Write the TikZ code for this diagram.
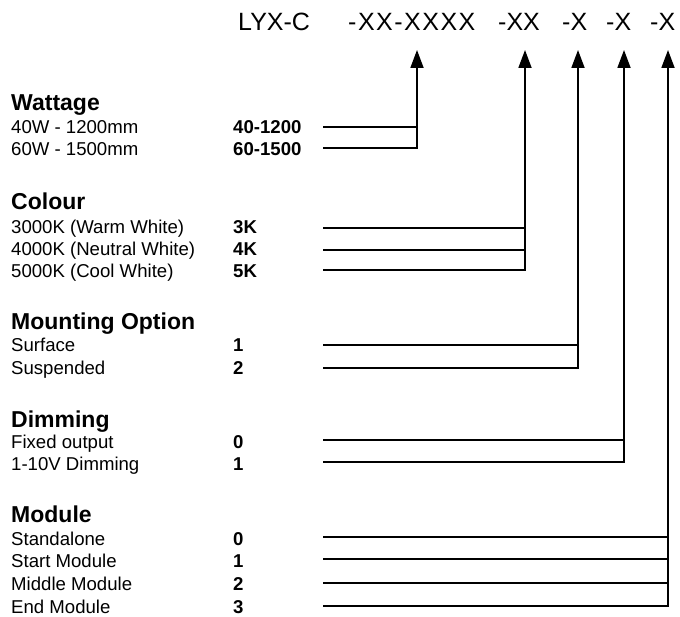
\documentclass[tikz,border=0pt]{standalone}
\usepackage{fontspec}
\setmainfont{Liberation Sans}
\usetikzlibrary{arrows.meta}

\begin{document}
\begin{tikzpicture}[
        x=1pt, y=-1pt,
        part/.style={anchor=base west, inner sep=0pt, font=\fontsize{25}{30}\selectfont},
        head/.style={anchor=base west, inner sep=0pt, font=\fontsize{23}{27}\selectfont\bfseries},
        item/.style={anchor=base west, inner sep=0pt, font=\fontsize{18.6}{22}\selectfont},
        code/.style={anchor=base west, inner sep=0pt, font=\fontsize{18.6}{22}\selectfont\bfseries},
        wire/.style={line width=1.8pt},
        arr/.style={wire, -{Triangle[length=18pt, width=13pt]}}
    ]
        \useasboundingbox (0,0) rectangle (680,617);

        % part number
        \node[part] (pre) at (238,31) {LYX-C};
        \node[part, font=\fontsize{25}{30}\selectfont\addfontfeature{LetterSpace=6}] (wat) at (348,31) {-XX-XXXX};
        \node[part] (col) at (498,31) {-XX};
        \node[part] (mnt) at (562,31) {-X};
        \node[part] (dim) at (606,31) {-X};
        \node[part] (mod) at (650,31) {-X};

        \coordinate (tipW) at (417,50);
        \coordinate (tipC) at (525,50);
        \coordinate (tipM) at (578,50);
        \coordinate (tipD) at (624,50);
        \coordinate (tipX) at (668,50);

        % wattage
        \node[head] (hw) at (11,111) {Wattage};
        \node[item] (w1) at (11,134) {40W - 1200mm};
        \node[code] (w1c) at (233,134) {40-1200};
        \node[item] (w2) at (11,156) {60W - 1500mm};
        \node[code] (w2c) at (233,156) {60-1500};
        \coordinate (lw1) at (323,127);
        \coordinate (lw2) at (323,148);

        % colour
        \node[head] (hc) at (11,210) {Colour};
        \node[item] (c1) at (11,234) {3000K (Warm White)};
        \node[code] (c1c) at (233,234) {3K};
        \node[item] (c2) at (11,256) {4000K (Neutral White)};
        \node[code] (c2c) at (233,256) {4K};
        \node[item] (c3) at (11,278) {5000K (Cool White)};
        \node[code] (c3c) at (233,278) {5K};
        \coordinate (lc1) at (323,228);
        \coordinate (lc2) at (323,250);
        \coordinate (lc3) at (323,270);

        % mounting
        \node[head] (hm) at (11,330) {Mounting Option};
        \node[item] (m1) at (11,352) {Surface};
        \node[code] (m1c) at (233,352) {1};
        \node[item] (m2) at (11,375) {Suspended};
        \node[code] (m2c) at (233,375) {2};
        \coordinate (lm1) at (323,345);
        \coordinate (lm2) at (323,368);

        % dimming
        \node[head] (hd) at (11,428) {Dimming};
        \node[item] (d1) at (11,448) {Fixed output};
        \node[code] (d1c) at (233,448) {0};
        \node[item] (d2) at (11,470) {1-10V Dimming};
        \node[code] (d2c) at (233,470) {1};
        \coordinate (ld1) at (323,440);
        \coordinate (ld2) at (323,462);

        % module
        \node[head] (hx) at (11,522) {Module};
        \node[item] (x1) at (11,545) {Standalone};
        \node[code] (x1c) at (233,545) {0};
        \node[item] (x2) at (11,567) {Start Module};
        \node[code] (x2c) at (233,567) {1};
        \node[item] (x3) at (11,590) {Middle Module};
        \node[code] (x3c) at (233,590) {2};
        \node[item] (x4) at (11,613) {End Module};
        \node[code] (x4c) at (233,613) {3};
        \coordinate (lx1) at (323,537);
        \coordinate (lx2) at (323,559);
        \coordinate (lx3) at (323,583);
        \coordinate (lx4) at (323,606);

        \draw[arr] (lw2) -| (tipW);
        \draw[wire] (lw1) -- (lw1 -| tipW);

        \draw[arr] (lc3) -| (tipC);
        \draw[wire] (lc1) -- (lc1 -| tipC);
        \draw[wire] (lc2) -- (lc2 -| tipC);

        \draw[arr] (lm2) -| (tipM);
        \draw[wire] (lm1) -- (lm1 -| tipM);

        \draw[arr] (ld2) -| (tipD);
        \draw[wire] (ld1) -- (ld1 -| tipD);

        \draw[arr] (lx4) -| (tipX);
        \draw[wire] (lx1) -- (lx1 -| tipX);
        \draw[wire] (lx2) -- (lx2 -| tipX);
        \draw[wire] (lx3) -- (lx3 -| tipX);
    \end{tikzpicture}
\end{document}
